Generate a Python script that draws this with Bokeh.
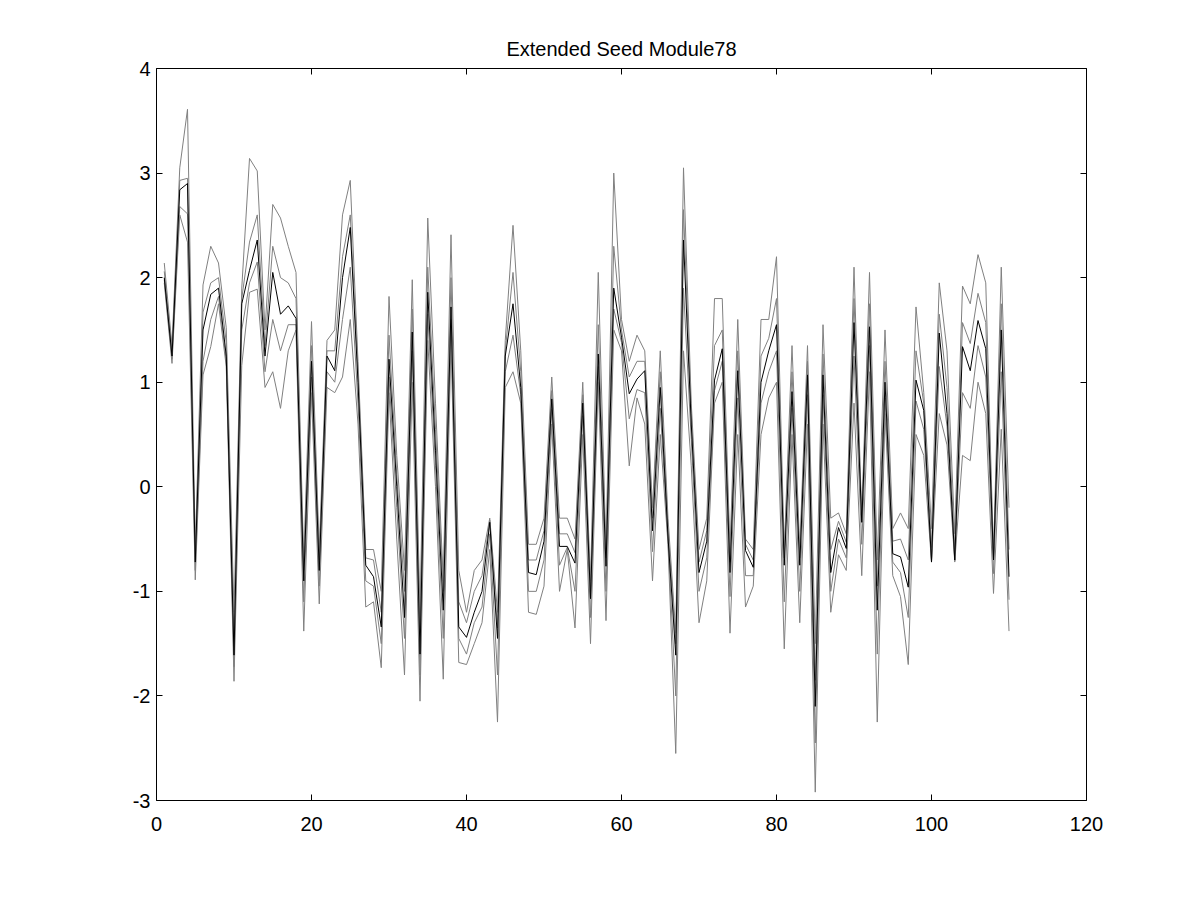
from bokeh.plotting import figure
from bokeh.models import Range1d, LinearAxis, FixedTicker, CustomJSTickFormatter
from bokeh.embed import file_html
from bokeh.resources import INLINE

x = list(range(1, 111))

mean_line = [2.0, 1.25, 2.84, 2.9, -0.72, 1.5, 1.84, 1.9, 1.25, -1.61,
             1.75, 2.07, 2.36, 1.25, 2.05, 1.65, 1.73, 1.61, -0.9, 1.2,
             -0.8, 1.25, 1.11, 2.0, 2.48, 1.0, -0.75, -0.86, -1.34, 1.22,
             0.0, -1.25, 1.48, -1.6, 1.86, 0.35, -1.18, 1.72, -1.34, -1.44,
             -1.2, -1.0, -0.34, -1.45, 1.25, 1.75, 0.95, -0.82, -0.84, -0.52,
             0.84, -0.57, -0.57, -0.73, 0.8, -1.07, 1.27, -0.76, 1.9, 1.43,
             0.89, 1.03, 1.11, -0.42, 0.95, -0.48, -1.61, 2.36, 0.6, -0.82,
             -0.52, 1.02, 1.32, -0.82, 1.11, -0.61, -0.77, 1.0, 1.3, 1.55,
             -0.75, 0.91, -0.75, 1.07, -2.1, 1.07, -0.82, -0.39, -0.59, 1.57,
             -0.34, 1.53, -1.18, 1.0, -0.64, -0.67, -0.96, 1.02, 0.73, -0.72,
             1.47, 0.70, -0.70, 1.34, 1.11, 1.59, 1.32, -0.70, 1.50, -0.86]

member_a = [2.14, 1.35, 3.05, 3.61, -0.6, 1.93, 2.3, 2.14, 1.52, -1.2,
            1.9, 3.14, 3.02, 1.5, 2.7, 2.57, 2.3, 2.05, -0.7, 1.58,
            -0.6, 1.4, 1.5, 2.6, 2.93, 1.2, -0.6, -0.6, -1.0, 1.82,
            0.3, -0.8, 1.98, -1.2, 2.57, 0.8, -0.9, 2.41, -0.8, -1.2,
            -0.8, -0.7, -0.3, -1.2, 1.4, 2.5, 1.3, -0.55, -0.55, -0.3,
            1.05, -0.3, -0.3, -0.5, 1.0, -0.9, 2.05, -0.6, 3.0, 1.6,
            1.2, 1.45, 1.3, -0.2, 1.3, -0.3, -1.4, 3.05, 0.8, -0.6,
            -0.3, 1.8, 1.8, -0.6, 1.6, -0.5, -0.6, 1.6, 1.6, 2.2,
            -0.6, 1.35, -0.6, 1.35, -1.5, 1.55, -0.3, -0.25, -0.45, 2.1,
            -0.3, 2.05, -0.7, 1.5, -0.4, -0.25, -0.4, 1.72, 0.9, -0.4,
            1.95, 1.3, -0.45, 1.92, 1.75, 2.22, 1.95, -0.65, 2.1, -0.2]

member_b = [1.95, 1.18, 2.6, 2.34, -0.89, 1.07, 1.34, 1.75, 1.15, -1.86,
            1.16, 1.86, 1.89, 0.95, 1.1, 0.75, 1.3, 1.5, -1.38, 0.9,
            -1.12, 0.95, 0.9, 1.05, 1.6, 0.6, -1.15, -1.1, -1.73, 0.9,
            -0.5, -1.8, 1.0, -2.05, 1.4, 0.0, -1.84, 1.4, -1.68, -1.7,
            -1.5, -1.3, -0.6, -2.25, 0.95, 1.1, 0.8, -1.2, -1.22, -0.95,
            0.6, -1.0, -0.6, -1.35, 0.5, -1.5, 1.0, -1.28, 1.5, 1.3,
            0.2, 0.85, 0.6, -0.9, 0.5, -0.55, -2.55, 1.3, 0.2, -1.3,
            -0.9, 0.8, 1.0, -1.4, 0.5, -1.15, -0.95, 0.5, 0.85, 1.0,
            -1.55, 0.5, -1.3, 0.6, -2.92, 0.6, -1.2, -0.65, -0.8, 0.8,
            -0.85, 1.1, -2.25, 0.7, -0.85, -1.05, -1.7, 0.5, 0.3, -0.72,
            0.7, 0.4, -0.72, 0.3, 0.25, 1.0, 0.7, -1.02, 0.55, -1.38]

member_c = [2.06, 1.29, 2.93, 2.95, -0.67, 1.67, 1.95, 2.0, 1.38, -1.45,
            1.8, 2.34, 2.6, 1.35, 2.3, 2.0, 1.95, 1.8, -0.8, 1.35,
            -0.7, 1.3, 1.3, 2.2, 2.6, 1.1, -0.68, -0.7, -1.2, 1.45,
            0.12, -1.0, 1.7, -1.4, 2.1, 0.55, -1.0, 2.0, -1.1, -1.3,
            -1.0, -0.85, -0.32, -1.35, 1.3, 2.05, 1.1, -0.7, -0.7, -0.42,
            0.92, -0.45, -0.45, -0.63, 0.88, -1.0, 1.55, -0.68, 2.3, 1.5,
            1.05, 1.2, 1.2, -0.3, 1.1, -0.4, -1.5, 2.65, 0.7, -0.72,
            -0.42, 1.35, 1.5, -0.72, 1.3, -0.55, -0.7, 1.25, 1.42, 1.8,
            -0.68, 1.1, -0.68, 1.2, -1.85, 1.27, -0.6, -0.33, -0.53, 1.8,
            -0.32, 1.75, -0.95, 1.2, -0.52, -0.5, -0.7, 1.3, 0.8, -0.58,
            1.65, 0.95, -0.6, 1.57, 1.37, 1.85, 1.57, -0.68, 1.75, -0.6]

member_d = [1.98, 1.22, 2.68, 2.61, -0.8, 1.2, 1.6, 1.82, 1.2, -1.72,
            1.5, 1.95, 2.15, 1.1, 1.6, 1.3, 1.55, 1.55, -1.1, 1.05,
            -0.95, 1.1, 1.0, 1.6, 2.1, 0.8, -0.9, -0.95, -1.5, 1.05,
            -0.2, -1.45, 1.3, -1.8, 1.65, 0.2, -1.45, 1.6, -1.45, -1.6,
            -1.3, -1.15, -0.45, -1.8, 1.1, 1.45, 0.88, -1.0, -1.0, -0.7,
            0.74, -0.75, -0.58, -1.0, 0.68, -1.25, 1.15, -1.0, 1.7, 1.38,
            0.65, 0.93, 0.9, -0.62, 0.75, -0.52, -2.0, 1.9, 0.45, -1.0,
            -0.68, 0.92, 1.2, -1.05, 0.85, -0.85, -0.85, 0.8, 1.1, 1.3,
            -1.1, 0.75, -1.0, 0.88, -2.45, 0.88, -1.0, -0.5, -0.68, 1.25,
            -0.55, 1.35, -1.6, 0.85, -0.72, -0.82, -1.25, 0.82, 0.55, -0.71,
            1.15, 0.58, -0.71, 0.9, 0.75, 1.35, 1.05, -0.83, 1.1, -1.08]

x_ticks = [0, 20, 40, 60, 80, 100, 120]
y_ticks = [-3, -2, -1, 0, 1, 2, 3, 4]
title_text = "Extended Seed Module78"

FONT = "Liberation Sans"
FSIZE = "20px"

p = figure(width=1184, height=884, output_backend="svg", toolbar_location=None,
           x_range=Range1d(0, 120), y_range=Range1d(-3, 4),
           min_border_left=156, min_border_right=98,
           min_border_top=68, min_border_bottom=84,
           title=title_text)

p.background_fill_color = "white"
p.border_fill_color = "white"
p.outline_line_color = "black"
p.outline_line_width = 1
p.xgrid.visible = False
p.ygrid.visible = False

p.title.align = "center"
p.title.text_font = FONT
p.title.text_font_style = "normal"
p.title.text_font_size = FSIZE
p.title.text_color = "black"
p.title.standoff = 18

for series in (member_a, member_b, member_c, member_d):
    p.line(x, series, line_color="#808080", line_width=1)
p.line(x, mean_line, line_color="black", line_width=1)

def style_axis(ax, labels=True):
    ax.axis_line_color = None
    ax.major_tick_in = 6
    ax.major_tick_out = 0
    ax.minor_tick_line_color = None
    ax.major_tick_line_color = "black"
    ax.major_label_text_font = FONT
    ax.major_label_text_font_size = FSIZE
    ax.major_label_text_color = "black"
    if labels:
        ax.formatter = CustomJSTickFormatter(code="return tick.toString()")
    else:
        ax.formatter = CustomJSTickFormatter(code="return ''")
        ax.major_label_standoff = 0

p.xaxis.ticker = FixedTicker(ticks=x_ticks)
p.yaxis.ticker = FixedTicker(ticks=y_ticks)
style_axis(p.xaxis[0])
style_axis(p.yaxis[0])
p.xaxis.major_label_standoff = 16
p.yaxis.major_label_standoff = 6

top_ax = LinearAxis(ticker=FixedTicker(ticks=x_ticks))
right_ax = LinearAxis(ticker=FixedTicker(ticks=y_ticks))
style_axis(top_ax, labels=False)
style_axis(right_ax, labels=False)
p.add_layout(top_ax, "above")
p.add_layout(right_ax, "right")

open("out.html", "w").write(file_html(p, INLINE))
